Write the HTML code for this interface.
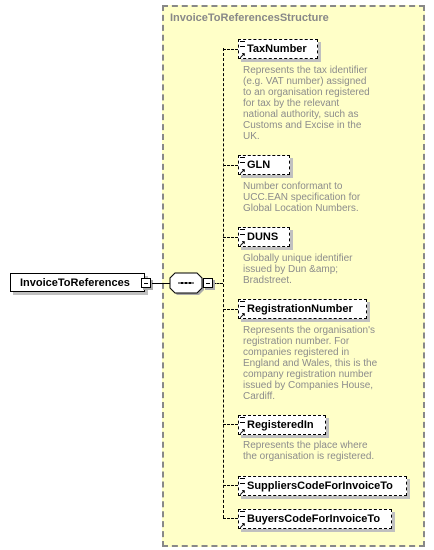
<!DOCTYPE html>
<html><head><style>
body{margin:0;width:434px;height:550px;background:#fff;position:relative;overflow:hidden;font-family:"Liberation Sans",sans-serif}
.a{position:absolute}
.yb{left:162px;top:5px;width:259px;height:538px;background:#ffffc8;border:2px dashed #888}
.t{left:170px;top:12px;font-size:11px;font-weight:bold;color:#888}
.el{position:absolute;height:18px;border:1px dashed #000;background:#fff;box-shadow:3px 3px 0 #c0c0c0;font-size:11px;font-weight:bold;line-height:18px;padding-left:8px;box-sizing:content-box}
.el:before{content:"";position:absolute;left:1px;top:1px;width:5px;height:4px;border-top:1px solid #000;border-bottom:1px solid #000}
.el:after{content:"↗";position:absolute;left:0;bottom:-2px;font-size:8px;line-height:8px}
.d{position:absolute;left:243px;font-size:10px;line-height:11px;color:#8c8c8c}
.h{position:absolute;height:0;border-top:1px dashed #000}
.mn{position:absolute;width:8px;height:8px;border:1px solid #000;background:#fff;box-shadow:2px 2px 0 #aaa}
.mn:after{content:"";position:absolute;left:2px;top:4px;width:4px;border-top:1px solid #000}
</style></head><body>
<div class="a yb"></div>
<div class="a t">InvoiceToReferencesStructure</div>
<div class="a" style="left:223px;top:48px;height:470px;border-left:1px dashed #000"></div>
<div class="h" style="left:223px;top:49px;width:15px"></div>
<div class="h" style="left:223px;top:165px;width:15px"></div>
<div class="h" style="left:223px;top:237px;width:15px"></div>
<div class="h" style="left:223px;top:309px;width:15px"></div>
<div class="h" style="left:223px;top:424px;width:15px"></div>
<div class="h" style="left:223px;top:485px;width:15px"></div>
<div class="h" style="left:223px;top:518px;width:15px"></div>
<div class="h" style="left:213px;top:283px;width:10px"></div>

<div class="el" style="left:238px;top:39px;width:70px">TaxNumber</div>
<div class="d" style="top:65px">Represents the tax identifier<br>(e.g. VAT number) assigned<br>to an organisation registered<br>for tax by the relevant<br>national authority, such as<br>Customs and Excise in the<br>UK.</div>
<div class="el" style="left:238px;top:155px;width:42px">GLN</div>
<div class="d" style="top:181px">Number conformant to<br>UCC.EAN specification for<br>Global Location Numbers.</div>
<div class="el" style="left:238px;top:227px;width:42px">DUNS</div>
<div class="d" style="top:253px">Globally unique identifier<br>issued by Dun &amp;amp;<br>Bradstreet.</div>
<div class="el" style="left:238px;top:299px;width:119px">RegistrationNumber</div>
<div class="d" style="top:325px">Represents the organisation's<br>registration number. For<br>companies registered in<br>England and Wales, this is the<br>company registration number<br>issued by Companies House,<br>Cardiff.</div>
<div class="el" style="left:238px;top:415px;width:78px">RegisteredIn</div>
<div class="d" style="top:440px">Represents the place where<br>the organisation is registered.</div>
<div class="el" style="left:238px;top:476px;width:159px">SuppliersCodeForInvoiceTo</div>
<div class="el" style="left:238px;top:509px;width:144px">BuyersCodeForInvoiceTo</div>

<div class="a" style="left:10px;top:273px;width:135px;height:19px;border:1px solid #000;background:#fff;box-shadow:3px 3px 0 #c0c0c0;font-size:11px;font-weight:bold;line-height:19px;padding-left:9px;box-sizing:border-box">InvoiceToReferences</div>
<div class="mn" style="left:141px;top:278px"></div>
<div class="a" style="left:152px;top:283px;width:18px;border-top:1px solid #000"></div>
<svg class="a" style="left:168px;top:270px" width="40" height="28">
<polygon points="9,5 31,5 36,10 36,20 31,25 9,25 4,20 4,10" fill="#aaa"/>
<polygon points="7,3 29,3 34,8 34,18 29,23 7,23 2,18 2,8" fill="#fff" stroke="#000"/>
<line x1="10" y1="13" x2="26" y2="13" stroke="#000"/>
<rect x="13" y="12" width="2" height="2"/><rect x="17" y="12" width="2" height="2"/><rect x="21" y="12" width="2" height="2"/>
</svg>
<div class="mn" style="left:203px;top:278px"></div>
</body></html>
